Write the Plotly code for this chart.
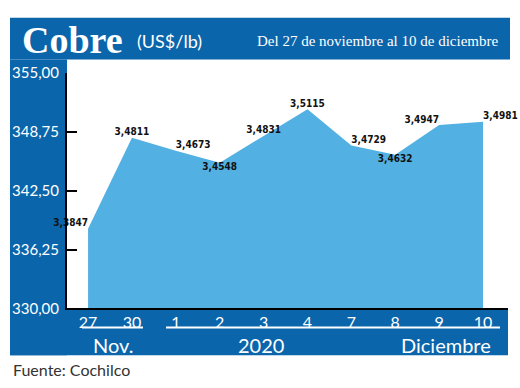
import plotly.graph_objects as go

W, H = 520, 388
days = ["27", "30", "1", "2", "3", "4", "7", "8", "9", "10"]
prices = [3.3847, 3.4811, 3.4673, 3.4548, 3.4831, 3.5115, 3.4729, 3.4632, 3.4947, 3.4981]
label_text = ["3,3847", "3,4811", "3,4673", "3,4548", "3,4831", "3,5115", "3,4729", "3,4632", "3,4947", "3,4981"]
label_pos = ["top left", "top center", "top right", "bottom center", "top center",
             "top center", "top right", "bottom center", "top left", "top right"]
yticks = [330.0, 336.25, 342.5, 348.75, 355.0]
yticktext = ["330,00", "336,25", "342,50", "348,75", "355,00"]
groups = ["Nov.", "2020", "Diciembre"]

BLUE = "#0B65AB"
AREA = "#52B1E2"

def px(x):
    return x / W

def py(y):
    return 1 - y / H

x_idx = list(range(len(days)))
cents = [p * 100 for p in prices]

fig = go.Figure()
fig.add_trace(go.Scatter(
    x=x_idx, y=cents, mode="lines+text", fill="tozeroy", fillcolor=AREA,
    line=dict(width=0, color=AREA), text=label_text, textposition=label_pos,
    textfont=dict(family="Liberation Sans Narrow, DejaVu Sans Condensed, sans-serif",
                  size=10, color="#111", weight="bold"),
    hoverinfo="skip", showlegend=False, cliponaxis=False,
))

shapes = [
    dict(type="rect", xref="paper", yref="paper", x0=px(10), x1=px(510), y0=py(52), y1=py(8),
         fillcolor=BLUE, line=dict(width=0), layer="below"),
    dict(type="rect", xref="paper", yref="paper", x0=px(10), x1=px(67), y0=py(362), y1=py(52),
         fillcolor=BLUE, line=dict(width=0), layer="below"),
    dict(type="rect", xref="paper", yref="paper", x0=px(10), x1=px(508), y0=py(362), y1=py(313),
         fillcolor=BLUE, line=dict(width=0), layer="below"),
    dict(type="line", xref="paper", yref="paper", x0=px(82), x1=px(143), y0=py(333), y1=py(333),
         line=dict(color="white", width=2)),
    dict(type="line", xref="paper", yref="paper", x0=px(166), x1=px(500), y0=py(333), y1=py(333),
         line=dict(color="white", width=2)),
]

sans = "Lato, Open Sans, sans-serif"
annotations = [
    dict(text="<b>Cobre</b>", xref="paper", yref="paper", x=px(20), y=py(31), xanchor="left",
         yanchor="middle", showarrow=False,
         font=dict(family="Liberation Serif, serif", size=38, color="white")),
    dict(text="(US$/lb)", xref="paper", yref="paper", x=px(135), y=py(32), xanchor="left",
         yanchor="middle", showarrow=False, font=dict(family=sans, size=18, color="white")),
    dict(text="Del 27 de noviembre al 10 de diciembre", xref="paper", yref="paper", x=px(501),
         y=py(32), xanchor="right", yanchor="middle", showarrow=False,
         font=dict(family="Liberation Serif, serif", size=15, color="white")),
    dict(text=groups[0], xref="paper", yref="paper", x=px(113), y=py(351), xanchor="center",
         yanchor="middle", showarrow=False, font=dict(family=sans, size=20, color="white")),
    dict(text=groups[1], xref="paper", yref="paper", x=px(261), y=py(351), xanchor="center",
         yanchor="middle", showarrow=False, font=dict(family=sans, size=20, color="white")),
    dict(text=groups[2], xref="paper", yref="paper", x=px(446), y=py(351), xanchor="center",
         yanchor="middle", showarrow=False, font=dict(family=sans, size=20, color="white")),
    dict(text="Fuente: Cochilco", xref="paper", yref="paper", x=px(11), y=py(377), xanchor="left",
         yanchor="middle", showarrow=False, font=dict(family=sans, size=16, color="#333")),
]

fig.update_layout(
    width=W, height=H, margin=dict(l=0, r=0, t=0, b=0),
    paper_bgcolor="white", plot_bgcolor="white",
    shapes=shapes, annotations=annotations,
    xaxis=dict(domain=[px(67), px(508)], range=[-0.48, 9.57], tickmode="array",
               tickvals=x_idx, ticktext=days, showgrid=False, zeroline=False,
               showline=True, linecolor="black", linewidth=2, ticks="",
               ticklabelstandoff=-2,
               tickfont=dict(family=sans, size=16, color="white")),
    yaxis=dict(domain=[py(313), py(66)], range=[330, 355], tickmode="array",
               tickvals=yticks, ticktext=yticktext, showgrid=False, zeroline=False,
               showline=True, linecolor="black", linewidth=2, ticks="inside",
               ticklen=10, tickwidth=2, tickcolor="black", ticklabelstandoff=3,
               tickfont=dict(family=sans, size=15, color="white")),
)

fig.write_html("out.html")
